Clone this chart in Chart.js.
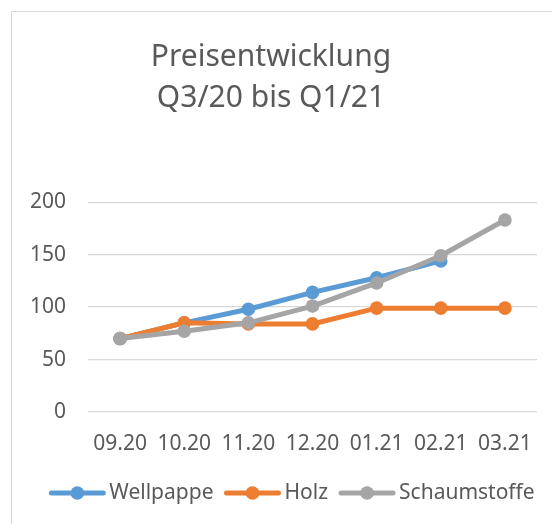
<!DOCTYPE html>
<html>
<head>
<meta charset="utf-8">
<script src="https://cdn.jsdelivr.net/npm/chart.js@4"></script>
<style>
  html, body { margin: 0; padding: 0; background: #fff; overflow: hidden; }
  #wrap { position: relative; width: 552px; height: 524px; }
  #frame { position: absolute; left: 11px; top: 11px; width: 600px; height: 600px; border: 1px solid #d9d9d9; box-sizing: border-box; }
  canvas { position: absolute; left: 0; top: 0; }
</style>
</head>
<body>
<div id="wrap">
  <div id="frame"></div>
  <canvas id="chart" width="552" height="524"></canvas>
</div>
<script>
// ---------- data ----------
const months = ['09.20', '10.20', '11.20', '12.20', '01.21', '02.21', '03.21'];
const wellpappe = [70, 85, 98, 114, 128, 144, null];
const holz = [70, 85, 84, 84, 99, 99, 99];
const schaumstoffe = [70, 77, 85, 101, 123, 149, 183];
const yTicks = [0, 50, 100, 150, 200];

const textColor = '#595959';
const gridColor = '#d9d9d9';
const fontFamily = '"Noto Sans", sans-serif';

function series(label, data, color, order) {
    return {
        label, data, order,
        borderColor: color,
        backgroundColor: color,
        borderWidth: 5,
        tension: 0,
        pointRadius: 6.8,
        pointHoverRadius: 6.8,
        pointBorderWidth: 0,
        spanGaps: false
    };
}

// legend drawn as line + dot, like the office style one
const lineLegend = {
    id: 'lineLegend',
    afterDraw(chart) {
        const ctx = chart.ctx;
        const items = chart.data.datasets;
        const lineW = 56, gapText = 4, gapItem = 11, cy = 493;
        ctx.save();
        ctx.font = '21px ' + fontFamily;
        const widths = items.map(d => lineW + gapText + ctx.measureText(d.label).width);
        const total = widths.reduce((a, b) => a + b, 0) + gapItem * (items.length - 1);
        let x = 292 - total / 2;
        items.forEach((d, i) => {
            ctx.strokeStyle = d.borderColor;
            ctx.lineWidth = 5;
            ctx.lineCap = 'round';
            ctx.beginPath();
            ctx.moveTo(x + 2, cy);
            ctx.lineTo(x + lineW - 2, cy);
            ctx.stroke();
            ctx.fillStyle = d.backgroundColor;
            ctx.beginPath();
            ctx.arc(x + lineW / 2, cy, 6.8, 0, Math.PI * 2);
            ctx.fill();
            ctx.fillStyle = textColor;
            ctx.textBaseline = 'middle';
            ctx.textAlign = 'left';
            ctx.fillText(d.label, x + lineW + gapText, cy);
            x += widths[i] + gapItem;
        });
        ctx.restore();
    }
};

new Chart(document.getElementById('chart'), {
    type: 'line',
    data: {
        labels: months,
        datasets: [
            series('Wellpappe', wellpappe, '#5b9bd5', 2),
            series('Holz', holz, '#ed7d31', 1),
            series('Schaumstoffe', schaumstoffe, '#a5a5a5', 0)
        ]
    },
    options: {
        responsive: false,
        animation: false,
        layout: { padding: { left: 5, right: 15, top: 0, bottom: 68 } },
        plugins: {
            legend: { display: false },
            tooltip: { enabled: false },
            title: {
                display: true,
                text: ['Preisentwicklung', 'Q3/20 bis Q1/21'],
                color: textColor,
                font: { family: fontFamily, size: 30, weight: 'normal', lineHeight: 1.37 },
                padding: { top: 37, bottom: 83 }
            }
        },
        scales: {
            x: {
                offset: true,
                afterFit(axis) { axis.height = 44; },
                grid: { display: false, drawTicks: false },
                border: { display: false },
                ticks: { color: textColor, font: { family: fontFamily, size: 21 }, padding: 19, maxRotation: 0 }
            },
            y: {
                min: 0,
                max: 200,
                afterBuildTicks(axis) { axis.ticks = yTicks.map(v => ({ value: v })); },
                afterFit(axis) { axis.width = 83; },
                grid: { color: gridColor, lineWidth: 1.3, drawTicks: false },
                border: { display: false },
                ticks: { color: textColor, font: { family: fontFamily, size: 21 }, padding: 22 }
            }
        }
    },
    plugins: [lineLegend]
});
</script>
</body>
</html>
